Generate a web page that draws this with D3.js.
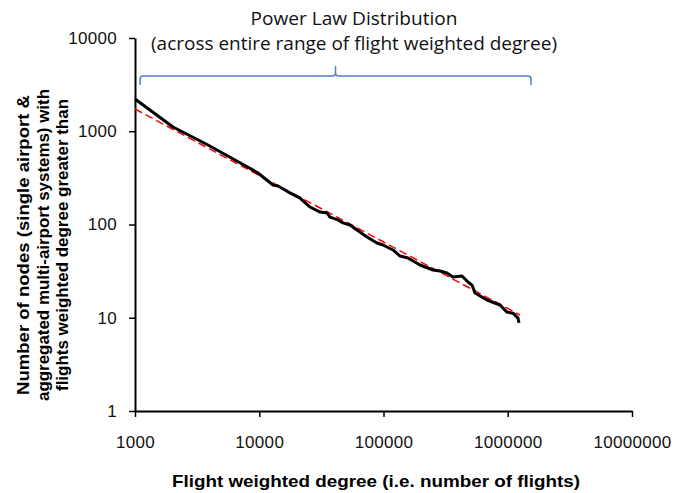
<!DOCTYPE html>
<html>
<head>
<meta charset="utf-8">
<script src="https://cdn.jsdelivr.net/npm/d3@7"></script>
<style>
    body { margin: 0; background: #ffffff; }
    svg { display: block; }
</style>
</head>
<body>
<div id="chart"></div>
<script>
// cumulative degree distribution
const degreeValues = [1000, 2022, 3868, 6380, 9770, 12900, 14150, 17680, 21280, 25620, 30830, 35110, 37110, 43040,
    47210, 53750, 61190, 73660, 88650, 99080, 119300, 135800, 157500, 196700, 250300, 284900, 324400, 362500,
    428300, 478700, 515600, 545100, 680800, 866000, 986000, 1102000, 1209000, 1232000];
const nodeCounts = [2217, 1111, 712, 492, 357, 265, 259, 218, 192, 154, 136, 133, 120, 112,
    104, 98.8, 87.3, 73.5, 63.3, 60.3, 53.3, 45.9, 43.7, 36.8, 32.5, 31.7, 30.2, 27.4,
    28.0, 24.2, 22.4, 18.4, 15.5, 13.7, 11.5, 11.2, 9.9, 8.8];

// power law fit (red dashed)
const fitDegree = [1000, 1255000];
const fitCount = [1732, 10.7];

// brace spanning the whole range
const braceDegree = [1100, 41100, 1540000];
const braceCount = 3913;

const xTicks = [1000, 10000, 100000, 1000000, 10000000];
const yTicks = [1, 10, 100, 1000, 10000];

const titleLines = ["Power Law Distribution", "(across entire range of flight weighted degree)"];
const yTitleLines = ["Number of nodes (single airport &", "aggregated multi-airport systems) with", "flights weighted degree greater  than"];
const xTitle = "Flight weighted  degree  (i.e. number of flights)";

const WIDTH = 674, HEIGHT = 493;

const svg = d3.select("#chart").append("svg")
    .attr("width", WIDTH)
    .attr("height", HEIGHT);

const x = d3.scaleLog().domain([1000, 10000000]).range([135, 632]);
const y = d3.scaleLog().domain([1, 10000]).range([411, 38]);

//axes
const xAxis = svg.append("g")
    .attr("transform", `translate(0,${y(1)})`)
    .call(d3.axisBottom(x).tickValues(xTicks).tickFormat(d3.format("d")).tickSize(6).tickSizeOuter(0).tickPadding(19));

const yAxis = svg.append("g")
    .attr("transform", `translate(${x(1000)},0)`)
    .call(d3.axisLeft(y).tickValues(yTicks).tickFormat(d3.format("d")).tickSize(6).tickSizeOuter(0).tickPadding(12));

[xAxis, yAxis].forEach(function (axis) {
    axis.select(".domain").attr("stroke", "#000").attr("stroke-width", 2);
    axis.selectAll(".tick line").attr("stroke", "#000").attr("stroke-width", 1.5);
    axis.selectAll(".tick text")
        .attr("fill", "#111")
        .style("font-family", "'Liberation Sans', Arial, sans-serif")
        .style("font-size", "17px")
        .style("letter-spacing", "0.3px");
});

// fitted power law
svg.append("path")
    .datum(d3.zip(fitDegree, fitCount))
    .attr("d", d3.line().x(d => x(d[0])).y(d => y(d[1])))
    .attr("fill", "none")
    .attr("stroke", "#ff0000")
    .attr("stroke-width", 1.5)
    .attr("stroke-dasharray", "8,4");

// observed distribution
svg.append("path")
    .datum(d3.zip(degreeValues, nodeCounts))
    .attr("d", d3.line().x(d => x(d[0])).y(d => y(d[1])))
    .attr("fill", "none")
    .attr("stroke", "#000")
    .attr("stroke-width", 3)
    .attr("stroke-linejoin", "round");

//brace
const bx0 = x(braceDegree[0]), bxm = x(braceDegree[1]), bx1 = x(braceDegree[2]), by = y(braceCount);
const bracePath = d3.path();
bracePath.moveTo(bx0, by + 9);
bracePath.lineTo(bx0, by + 3);
bracePath.quadraticCurveTo(bx0, by, bx0 + 3, by);
bracePath.lineTo(bxm - 3, by);
bracePath.quadraticCurveTo(bxm, by, bxm, by - 3);
bracePath.lineTo(bxm, by - 10);
bracePath.moveTo(bxm, by - 3);
bracePath.quadraticCurveTo(bxm, by, bxm + 3, by);
bracePath.lineTo(bx1 - 3, by);
bracePath.quadraticCurveTo(bx1, by, bx1, by + 3);
bracePath.lineTo(bx1, by + 9);
svg.append("path")
    .attr("d", bracePath.toString())
    .attr("fill", "none")
    .attr("stroke", "#4f81bd")
    .attr("stroke-width", 1.5);

// annotation title
const TITLE_WIDTHS = [207, 406];
svg.selectAll(".title-line")
    .data(titleLines)
    .enter().append("text")
    .attr("class", "title-line")
    .attr("x", 354)
    .attr("y", (d, i) => 25 + i * 25)
    .attr("text-anchor", "middle")
    .attr("textLength", (d, i) => TITLE_WIDTHS[i])
    .attr("lengthAdjust", "spacingAndGlyphs")
    .style("font-family", "'Open Sans', sans-serif")
    .style("font-size", "19px")
    .attr("fill", "#111")
    .text(d => d);

// y title, three rotated lines
const Y_TITLE_WIDTHS = [300, 312, 292];
svg.selectAll(".y-title")
    .data(yTitleLines)
    .enter().append("text")
    .attr("class", "y-title")
    .attr("transform", (d, i) => `translate(${29 + i * 19.5},245) rotate(-90)`)
    .attr("text-anchor", "middle")
    .attr("textLength", (d, i) => Y_TITLE_WIDTHS[i])
    .attr("lengthAdjust", "spacingAndGlyphs")
    .style("font-family", "'Liberation Sans', Arial, sans-serif")
    .style("font-size", "16.5px")
    .style("font-weight", "bold")
    .attr("fill", "#000")
    .text(d => d);

svg.append("text")
    .attr("x", 376)
    .attr("y", 487)
    .attr("text-anchor", "middle")
    .attr("textLength", 408)
    .attr("lengthAdjust", "spacingAndGlyphs")
    .style("font-family", "'Liberation Sans', Arial, sans-serif")
    .style("font-size", "16.5px")
    .style("font-weight", "bold")
    .attr("fill", "#000")
    .text(xTitle);
</script>
</body>
</html>
